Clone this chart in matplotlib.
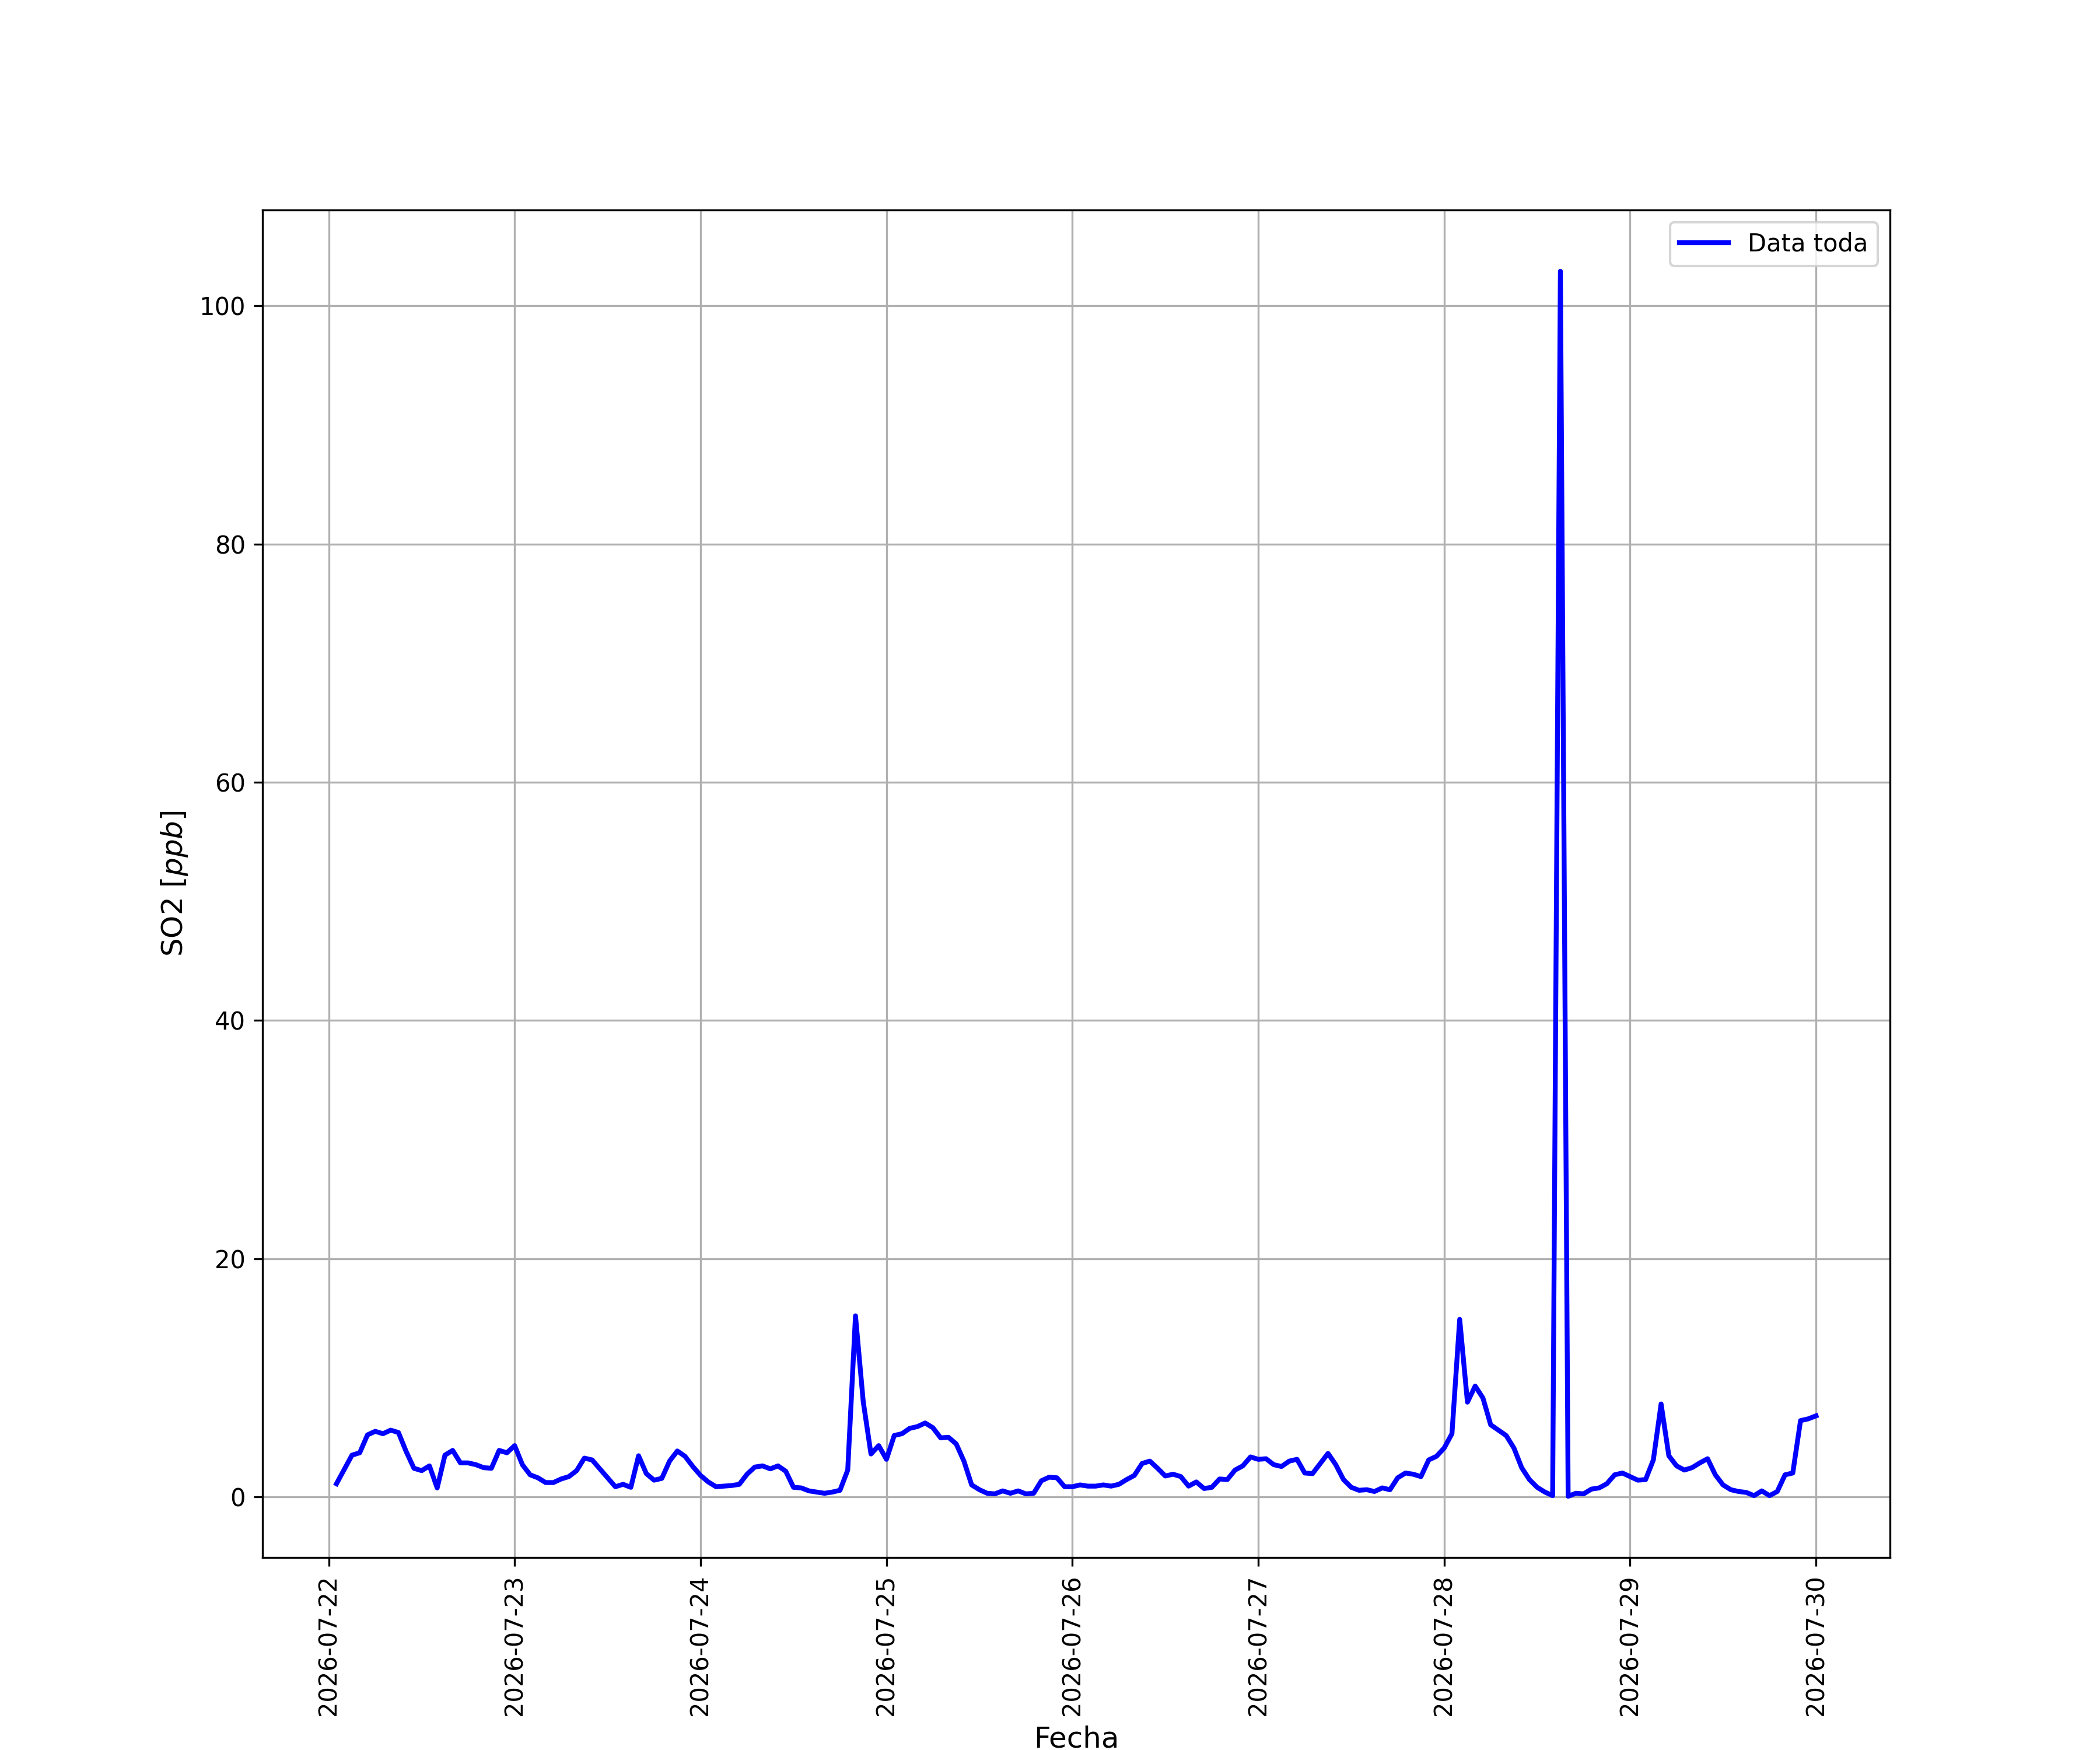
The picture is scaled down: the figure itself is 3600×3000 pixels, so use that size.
import matplotlib
matplotlib.use("Agg")
import matplotlib.pyplot as plt
import matplotlib.dates as mdates
import pandas as pd

# hourly SO2 readings, 2026-07-22 01:00 .. 2026-07-30 00:00
start = "2026-07-22 01:00"
so2_day1 = [1.1, 2.3, 3.5, 3.7, 5.2, 5.5, 5.3, 5.6, 5.4, 3.8, 2.4, 2.2,
            2.6, 0.75, 3.5, 3.9, 2.85, 2.85, 2.7, 2.45, 2.4, 3.9, 3.7, 4.3]
so2_day2 = [2.7, 1.85, 1.6, 1.2, 1.2, 1.5, 1.7, 2.2, 3.25, 3.1, 2.35, 1.6,
            0.85, 1.05, 0.8, 3.45, 1.95, 1.4, 1.55, 3.0, 3.85, 3.4, 2.55, 1.8]
so2_day3 = [1.25, 0.85, 0.9, 0.95, 1.05, 1.9, 2.5, 2.6, 2.35, 2.6, 2.15, 0.8,
            0.75, 0.5, 0.4, 0.3, 0.4, 0.55, 2.25, 15.2, 8.0, 3.6, 4.3, 3.15]
so2_day4 = [5.15, 5.3, 5.75, 5.9, 6.2, 5.8, 4.95, 5.0, 4.45, 3.0, 1.0, 0.6,
            0.3, 0.25, 0.5, 0.3, 0.5, 0.25, 0.3, 1.35, 1.65, 1.6, 0.85, 0.85]
so2_day5 = [1.0, 0.9, 0.9, 1.0, 0.9, 1.05, 1.45, 1.8, 2.8, 3.0, 2.4, 1.75,
            1.9, 1.7, 0.9, 1.25, 0.7, 0.8, 1.5, 1.45, 2.25, 2.6, 3.35, 3.15]
so2_day6 = [3.2, 2.7, 2.55, 3.0, 3.15, 2.0, 1.95, 2.8, 3.65, 2.7, 1.45, 0.8,
            0.55, 0.6, 0.45, 0.75, 0.6, 1.6, 2.0, 1.9, 1.7, 3.1, 3.4, 4.1]
so2_day7 = [5.3, 14.9, 7.95, 9.3, 8.3, 6.05, 5.6, 5.15, 4.1, 2.45, 1.45, 0.8,
            0.4, 0.1, 102.9, 0.05, 0.3, 0.25, 0.65, 0.75, 1.1, 1.85, 2.0, 1.7]
so2_day8 = [1.4, 1.45, 3.1, 7.8, 3.45, 2.6, 2.25, 2.45, 2.85, 3.2, 1.85, 1.0,
            0.6, 0.45, 0.37, 0.1, 0.5, 0.1, 0.45, 1.85, 2.0, 6.4, 6.55, 6.8]

so2 = (so2_day1 + so2_day2 + so2_day3 + so2_day4 +
       so2_day5 + so2_day6 + so2_day7 + so2_day8)
fechas = pd.date_range(start, periods=len(so2), freq="h")

fig, ax = plt.subplots(figsize=(12, 10))
ax.plot(fechas, so2, color="blue", linewidth=2, label="Data toda")

ax.xaxis.set_major_locator(mdates.DayLocator())
ax.xaxis.set_major_formatter(mdates.DateFormatter("%Y-%m-%d"))
plt.setp(ax.get_xticklabels(), rotation=90)

ax.set_xlabel("Fecha", fontsize=12)
ax.set_ylabel("SO2 [$ppb$]", fontsize=12)
ax.grid(True)
ax.legend(loc="upper right")

plt.savefig("out.png", dpi=300)
